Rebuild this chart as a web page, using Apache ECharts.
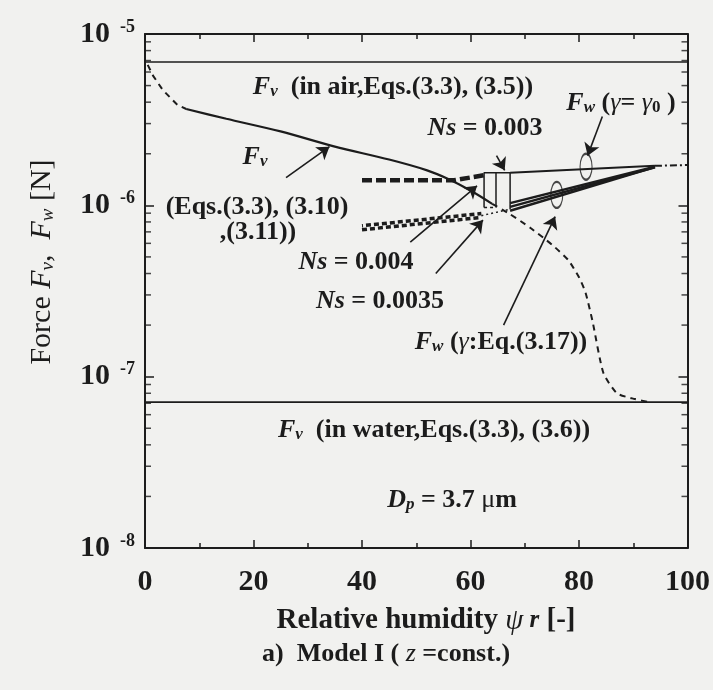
<!DOCTYPE html>
<html>
<head>
<meta charset="utf-8">
<script src="https://cdn.jsdelivr.net/npm/echarts@6/dist/echarts.min.js"></script>
<style>
html,body{margin:0;padding:0;background:#f1f1ef;}
#chart{width:713px;height:690px;}
</style>
</head>
<body>
<div id="chart"></div>
<script>
// Relative humidity (x, %) and force (y, N) values for each curve
const xTickStep = 20;
const airX = [0, 100];
const airF = [6.86e-6, 6.86e-6];
const waterX = [0, 100];
const waterF = [7.1e-8, 7.1e-8];

const fvHeadX = [0.5, 1.5, 3.3, 6, 7.6];
const fvHeadF = [6.6e-6, 5.7e-6, 4.7e-6, 3.85e-6, 3.65e-6];
const fvMidX = [7.6, 15, 25, 35, 45, 52, 56, 60, 64];
const fvMidF = [3.65e-6, 3.2e-6, 2.7e-6, 2.2e-6, 1.85e-6, 1.6e-6, 1.42e-6, 1.22e-6, 1.02e-6];
const fvTailX = [64, 67, 71, 75, 78, 80, 81.2, 82.5, 84.5, 87, 90.3, 93];
const fvTailF = [1.02e-6, 9.0e-7, 7.4e-7, 5.9e-7, 4.8e-7, 3.8e-7, 3.1e-7, 2.1e-7, 1.05e-7, 8.0e-8, 7.4e-8, 7.1e-8];

const ns3X = [40, 57, 62.5];
const ns3F = [1.40e-6, 1.40e-6, 1.50e-6];
const nsAX = [40, 62];
const nsAF = [7.2e-7, 8.5e-7];
const nsBX = [40, 62];
const nsBF = [7.6e-7, 8.95e-7];
const linkX = [62, 67.3];
const linkF = [8.7e-7, 9.5e-7];

const boxX = [62.5, 62.5, 67.3, 67.3];
const boxF = [9.7e-7, 1.55e-6, 1.55e-6, 9.5e-7];
const boxMidX = [64.7, 64.7];
const boxMidF = [9.7e-7, 1.55e-6];
const boxBaseX = [62.5, 64.7];
const boxBaseF = [9.7e-7, 9.7e-7];

const gamma0X = [67.3, 94];
const gamma0F = [1.55e-6, 1.70e-6];
const gammaEqX = [67.3, 94];
const gammaEqLoF = [9.3e-7, 1.67e-6];
const gammaEqMidF = [9.8e-7, 1.67e-6];
const gammaEqHiF = [1.03e-6, 1.68e-6];
const endX = [94, 100];
const endF = [1.70e-6, 1.72e-6];

const loopX = [81.3, 75.9];
const loopF = [1.68e-6, 1.15e-6];

// arrows: [fromX, fromF, toX, toF]
const arrowFv = [26, 1.45e-6, 34, 2.2e-6];
const arrowNs003 = [64.8, 1.95e-6, 66.3, 1.6e-6];
const arrowGamma0 = [84.3, 3.3e-6, 81.6, 1.95e-6];
const arrowNs004 = [48.9, 6.1e-7, 61.2, 1.3e-6];
const arrowNs0035 = [53.6, 4.0e-7, 62.3, 8.2e-7];
const arrowGammaEq = [66.1, 2.0e-7, 75.6, 8.6e-7];

// minor tick mantissas on the log axis
const minorMantissa = [2, 3, 4, 5, 6, 7, 8, 9];
const decades = [1e-8, 1e-7, 1e-6];

const pairs = (xs, ys) => xs.map((x, i) => [x, ys[i]]);
const ink = '#1c1c1c';
const serif = '"Liberation Serif","Times New Roman",serif';

const minorVals = [];
decades.forEach(d => minorMantissa.forEach(m => minorVals.push(m * d)));

function line(name, xs, ys, width, type, extra) {
  return Object.assign({
    name, type: 'line', data: pairs(xs, ys), symbol: 'none', silent: true,
    lineStyle: { color: ink, width: width, type: type || 'solid' }, z: 3
  }, extra || {});
}
function arrow(a) {
  return [{ coord: [a[0], a[1]] }, { coord: [a[2], a[3]] }];
}

const AS = 26;
const txt = (size, extra) => Object.assign({ fontFamily: serif, fontSize: size, fontWeight: 'bold', fill: ink }, extra || {});
const richAnn = {
  t: txt(AS),
  i: txt(AS, { fontStyle: 'italic' }),
  s: txt(17, { fontStyle: 'italic', verticalAlign: 'bottom', lineHeight: 17, padding: [7, 0, 0, 0] }),
  g: txt(AS, { fontStyle: 'italic', fontWeight: 'normal' }),
  z: txt(17, { verticalAlign: 'bottom', lineHeight: 17, padding: [9, 0, 0, 0] }),
  m: txt(AS, { fontWeight: 'normal' })
};
function label(text, x, y) {
  return { type: 'text', x: x, y: y, silent: true,
    style: { text: text, rich: richAnn, align: 'center', verticalAlign: 'middle', fill: ink } };
}

const chart = echarts.init(document.getElementById('chart'));
const axisCommon = {
  axisLine: { show: true, onZero: false, lineStyle: { color: ink, width: 2 } },
  splitLine: { show: false }
};
chart.setOption({
  animation: false,
  backgroundColor: '#f1f1ef',
  grid: { left: 145, top: 34, width: 554, height: 514 },
  xAxis: [
    Object.assign({
      type: 'value', min: 0, max: 100, interval: xTickStep, position: 'bottom',
      axisTick: { inside: true, length: 8, lineStyle: { color: ink, width: 1.5 } },
      minorTick: { show: true, splitNumber: 2, length: 5, lineStyle: { color: ink, width: 1.5 } },
      axisLabel: { margin: 19, color: ink, fontFamily: serif, fontWeight: 'bold', fontSize: 30 }
    }, axisCommon),
    Object.assign({
      type: 'value', min: 0, max: 100, interval: xTickStep, position: 'top',
      axisTick: { inside: true, length: 8, lineStyle: { color: ink, width: 1.5 } },
      minorTick: { show: true, splitNumber: 2, length: 5, lineStyle: { color: ink, width: 1.5 } },
      axisLabel: { show: false }
    }, axisCommon)
  ],
  yAxis: [
    Object.assign({
      type: 'log', logBase: 10, min: 1e-8, max: 1e-5, position: 'left',
      axisTick: { inside: true, length: 9, lineStyle: { color: ink, width: 1.5 } },
      axisLabel: {
        margin: 10, color: ink,
        formatter: v => '{b|10}{p|' + Math.round(Math.log10(v)) + '}',
        rich: {
          b: { fontFamily: serif, fontWeight: 'bold', fontSize: 30, color: ink, lineHeight: 32 },
          p: { fontFamily: serif, fontWeight: 'bold', fontSize: 18, color: ink, verticalAlign: 'top', lineHeight: 18, padding: [0, 0, 0, 10] }
        }
      }
    }, axisCommon),
    Object.assign({
      type: 'log', logBase: 10, min: 1e-8, max: 1e-5, position: 'right',
      axisTick: { inside: true, length: 9, lineStyle: { color: ink, width: 1.5 } },
      axisLabel: { show: false }
    }, axisCommon)
  ],
  series: [
    line('air', airX, airF, 1.6, 'solid', {
      markLine: {
        silent: true, animation: false, symbol: ['none', 'arrow'], symbolSize: 12,
        label: { show: false },
        lineStyle: { color: ink, width: 1.6, type: 'solid' },
        data: [arrow(arrowFv), arrow(arrowNs003), arrow(arrowGamma0), arrow(arrowNs004), arrow(arrowNs0035), arrow(arrowGammaEq)]
      }
    }),
    line('water', waterX, waterF, 1.6),
    line('fvHead', fvHeadX, fvHeadF, 2, [6, 5]),
    line('fvMid', fvMidX, fvMidF, 2.2, 'solid', { smooth: 0.3 }),
    line('fvTail', fvTailX, fvTailF, 2, [6, 5], { smooth: 0.2 }),
    line('ns003', ns3X, ns3F, 4.5, [10, 4]),
    line('nsA', nsAX, nsAF, 3.5, [5, 3]),
    line('nsB', nsBX, nsBF, 3.5, [5, 3], { lineStyle: { color: ink, width: 3.5, type: [5, 3], dashOffset: 4 } }),
    line('link', linkX, linkF, 1.5, [2, 3]),
    line('box', boxX, boxF, 1.5),
    line('boxMid', boxMidX, boxMidF, 1.5),
    line('boxBase', boxBaseX, boxBaseF, 1.5, [3, 3]),
    line('gamma0', gamma0X, gamma0F, 2),
    line('gammaEqLo', gammaEqX, gammaEqLoF, 2.5),
    line('gammaEqMid', gammaEqX, gammaEqMidF, 2.5),
    line('gammaEqHi', gammaEqX, gammaEqHiF, 2.5),
    line('end', endX, endF, 2, [7, 3, 2, 3]),
    {
      name: 'loops', type: 'scatter', silent: true, clip: false, z: 4,
      data: pairs(loopX, loopF), symbol: 'circle', symbolSize: [12, 26],
      itemStyle: { color: 'rgba(0,0,0,0)', borderColor: ink, borderWidth: 1.6 }
    },
    {
      name: 'minorLeft', type: 'scatter', silent: true, clip: false, z: 2,
      data: minorVals.map(v => [0, v]), symbol: 'rect', symbolSize: [6, 1.5], symbolOffset: [3, 0],
      itemStyle: { color: ink }
    },
    {
      name: 'minorRight', type: 'scatter', silent: true, clip: false, z: 2,
      data: minorVals.map(v => [100, v]), symbol: 'rect', symbolSize: [6, 1.5], symbolOffset: [-3, 0],
      itemStyle: { color: ink }
    }
  ],
  graphic: [
    label('{i|F}{s|v}{t|  (in air,Eqs.(3.3), (3.5))}', 393, 87),
    label('{i|F}{s|w}{t| (}{g|γ}{t|= }{g|γ}{z|0}{t| )}', 621, 103),
    label('{i|Ns}{t| = 0.003}', 485, 128),
    label('{i|F}{s|v}', 255, 157),
    label('{t|(Eqs.(3.3), (3.10)}', 257, 207),
    label('{t|,(3.11))}', 258, 232),
    label('{i|Ns}{t| = 0.004}', 356, 262),
    label('{i|Ns}{t| = 0.0035}', 380, 301),
    label('{i|F}{s|w}{t| (}{g|γ}{t|:Eq.(3.17))}', 501, 342),
    label('{i|F}{s|v}{t|  (in water,Eqs.(3.3), (3.6))}', 434, 430),
    label('{i|D}{s|p}{t| = 3.7 }{m|μ}{t|m}', 452, 500),
    {
      type: 'text', x: 42, y: 262, rotation: Math.PI / 2, silent: true,
      style: {
        text: '{n|Force }{i|F}{s|v}{n|,  }{i|F}{s|w}{n| [N]}', align: 'center', verticalAlign: 'middle',
        rich: {
          n: { fontFamily: serif, fontSize: 30, fill: ink },
          i: { fontFamily: serif, fontSize: 30, fontStyle: 'italic', fill: ink },
          s: { fontFamily: serif, fontSize: 19, fontStyle: 'italic', fill: ink, verticalAlign: 'bottom', lineHeight: 19, padding: [7, 0, 0, 0] }
        }
      }
    },
    {
      type: 'text', x: 426, y: 621, silent: true,
      style: {
        text: '{n|Relative humidity }{g|ψ}{i| r}{n| [-]}', align: 'center', verticalAlign: 'middle',
        rich: {
          n: { fontFamily: serif, fontSize: 29, fontWeight: 'bold', fill: ink },
          g: { fontFamily: serif, fontSize: 29, fontStyle: 'italic', fill: ink },
          i: { fontFamily: serif, fontSize: 25, fontStyle: 'italic', fontWeight: 'bold', fill: ink }
        }
      }
    },
    {
      type: 'text', x: 386, y: 654, silent: true,
      style: {
        text: '{n|a)  Model I ( }{i|z}{n| =const.)}', align: 'center', verticalAlign: 'middle',
        rich: {
          n: { fontFamily: serif, fontSize: 26, fontWeight: 'bold', fill: ink },
          i: { fontFamily: serif, fontSize: 26, fontStyle: 'italic', fill: ink }
        }
      }
    }
  ]
});
</script>
</body>
</html>
